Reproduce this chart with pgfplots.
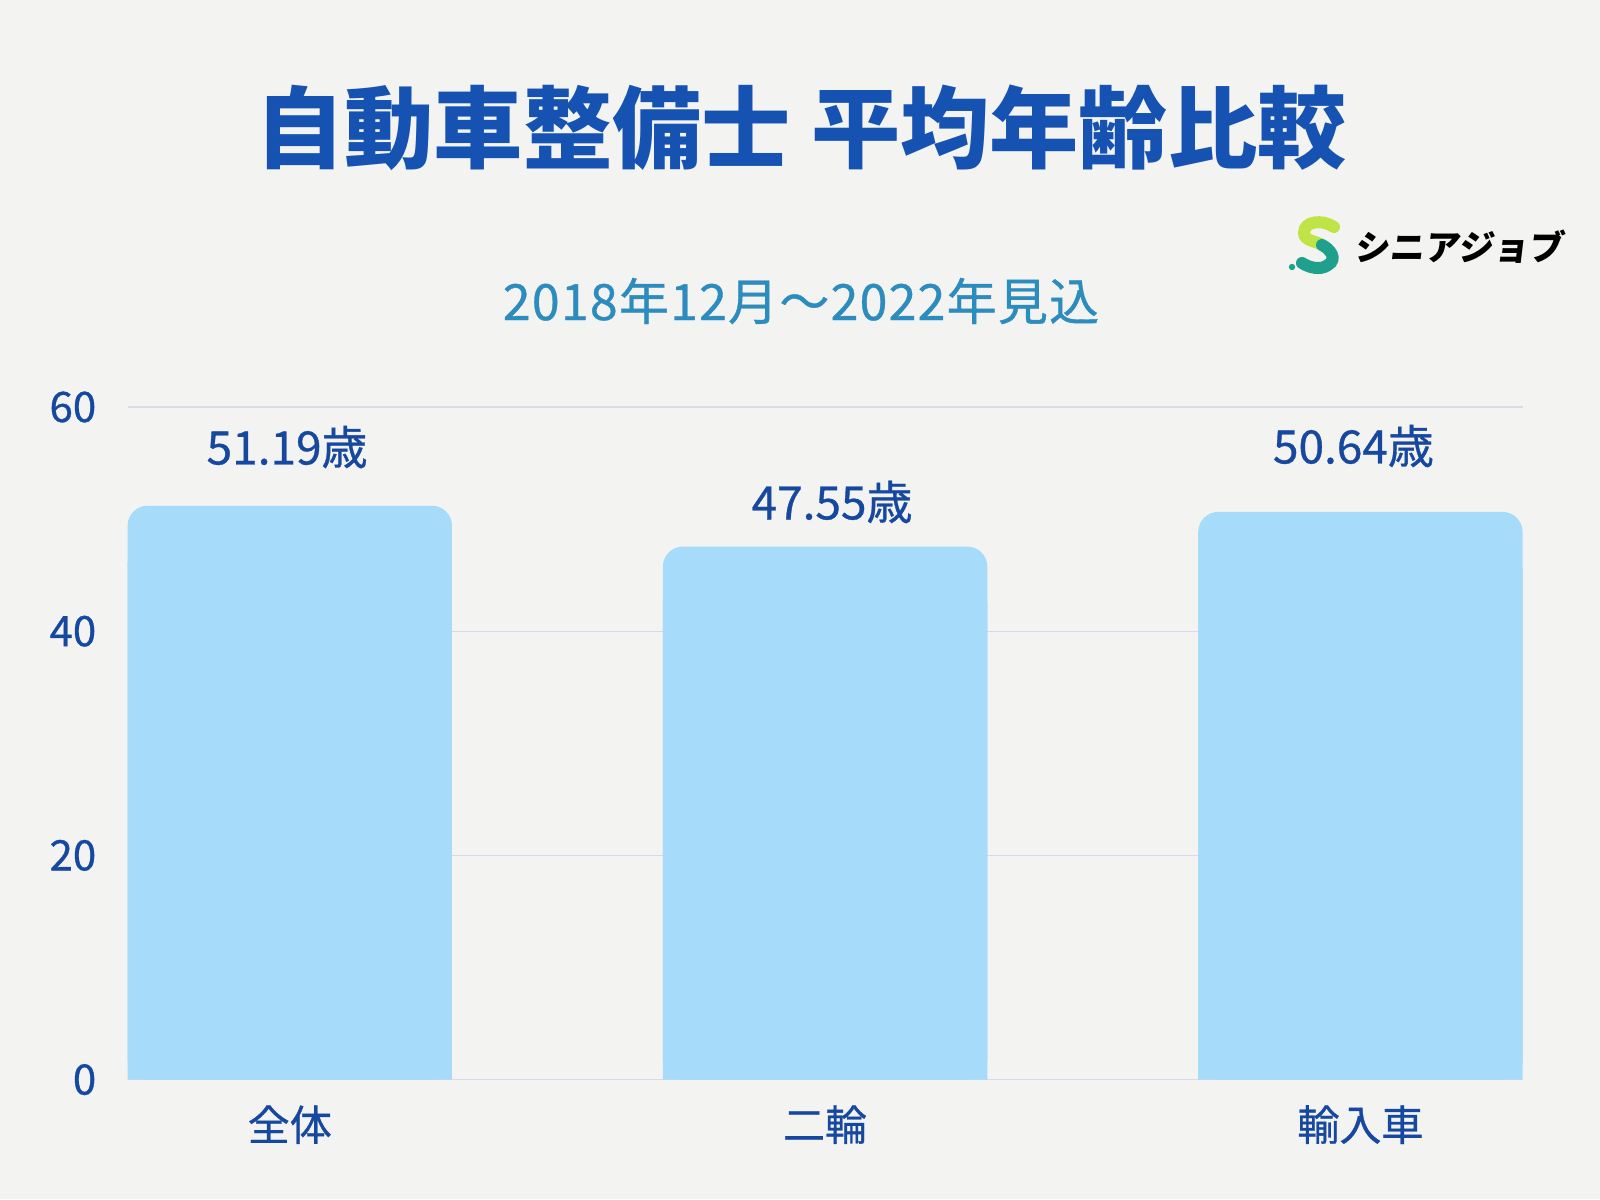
\documentclass[border=0pt]{standalone}
\usepackage{fontspec}
\setmainfont{Noto Sans CJK JP}
\newfontfamily\cjkmed[FakeBold=0.7]{Noto Sans CJK JP}
\newfontfamily\cjksub[FakeBold=0.7,LetterSpace=2.5]{Noto Sans CJK JP}
\newfontfamily\cjklogo[FakeSlant=0.12]{Noto Sans CJK JP}
\usepackage{pgfplots}
\pgfplotsset{compat=1.18}
\usepackage{pgfplotstable}
\definecolor{bg}{RGB}{243,243,242}
\definecolor{titlecol}{RGB}{22,82,178}
\definecolor{labcol}{RGB}{22,72,160}
\definecolor{subcol}{RGB}{45,140,190}
\definecolor{barcol}{RGB}{166,219,250}
\definecolor{gridcol}{RGB}{214,218,234}
\definecolor{lime}{RGB}{190,228,70}
\definecolor{teal}{RGB}{30,160,140}

\pgfplotstableread{
x v lx ly
0 51.19 -0.005 56.43
1 47.55 1.013 51.53
2 50.64 1.987 56.52
}\agedata

\begin{document}
\begin{tikzpicture}
\fill[bg] (0,0) rectangle (800pt,599.5pt);
% title
\node[font=\bfseries\fontsize{44.6}{44.6}\selectfont, text=titlecol] at (400.5pt,535.7pt) {自動車整備士 平均年齢比較};
% subtitle
\node[font=\cjksub\fontsize{25}{25}\selectfont, text=subcol] at (400.5pt,449pt) {2018年12月～2022年見込};
% logo
\begin{scope}[line cap=round, line width=6pt]
\draw[lime] (667pt,486pt) .. controls (661pt,490pt) and (652pt,489pt) .. (652pt,483pt) .. controls (652pt,479pt) and (658pt,479pt) .. (661pt,477pt);
\draw[teal] (661pt,477pt) .. controls (665pt,475pt) and (669pt,470pt) .. (664pt,467pt) .. controls (660pt,464pt) and (654pt,466pt) .. (651pt,468pt);
\fill[teal] (646pt,466pt) circle (1.6pt);
\end{scope}
\node[font=\cjklogo\bfseries\fontsize{17.5}{17.5}\selectfont, text=black] at (729.5pt,476pt) {シニアジョブ};
\begin{axis}[
  at={(63.8pt,59.7pt)}, anchor=south west,
  scale only axis, width=697.5pt, height=336.3pt,
  xmin=-0.303, xmax=2.303, ymin=0, ymax=60,
  ytick={0,20,40,60}, xtick={0,1,2},
  xticklabels={全体,二輪,輸入車},
  axis line style={draw=none},
  major tick length=0pt,
  ymajorgrids, grid style={gridcol, line width=0.7pt},
  clip=false,
  /pgf/number format/assume math mode=true,
  y tick label style={anchor=east, inner sep=0pt, xshift=-15.5pt, font=\cjkmed\fontsize{21}{21}\selectfont, text=labcol},
  x tick label style={anchor=center, inner sep=0pt, yshift=-22.5pt, font=\cjkmed\fontsize{21}{21}\selectfont, text=labcol},
]
\addplot[ybar, bar width=0.606, bar shift=0pt, fill=barcol, draw=none, rounded corners=10pt] table[x=x,y=v]{\agedata};
\addplot[ybar, bar width=0.606, bar shift=0pt, fill=barcol, draw=none] table[x=x,y expr=\thisrow{v}-5]{\agedata};
\addplot[draw=none, mark=none, point meta=explicit,
  nodes near coords={\pgfmathprintnumber[fixed,fixed zerofill,precision=2]{\pgfplotspointmeta}歳},
  every node near coord/.style={anchor=center, inner sep=0pt, font=\cjkmed\fontsize{23}{23}\selectfont, text=labcol}]
  table[x=lx,y=ly,meta=v]{\agedata};
\end{axis}
\end{tikzpicture}
\end{document}
